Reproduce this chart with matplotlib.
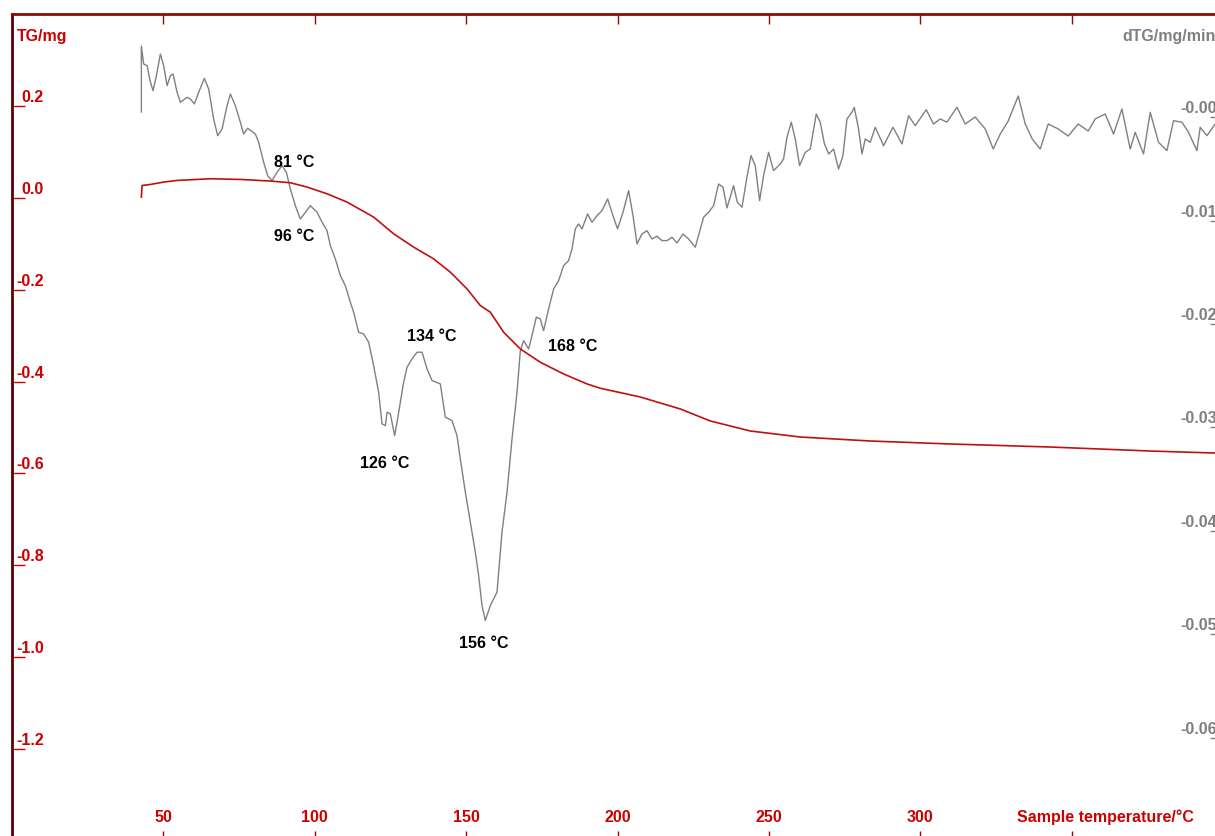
import matplotlib
matplotlib.use("Agg")
import matplotlib.pyplot as plt

plt.rcParams['font.family'] = ['Liberation Sans', 'DejaVu Sans']

# TG curve (mg) against sample temperature (°C)
tg_temp = [42.73, 42.96, 45.71, 50.10, 54.52, 65.52, 75.43, 85.34, 91.94, 97.46,
           104.06, 110.67, 119.45, 126.06, 132.66, 139.27, 144.78, 150.30, 154.69, 157.99,
           162.38, 167.90, 174.50, 182.20, 189.93, 194.32, 207.53, 220.74, 230.65, 243.86,
           260.37, 283.49, 309.91, 342.93, 375.96, 397.43]
tg_mass = [0.0015, 0.0268, 0.0290, 0.0342, 0.0377, 0.0414, 0.0399, 0.0364, 0.0327, 0.0233,
           0.0087, -0.0094, -0.0420, -0.0784, -0.1074, -0.1329, -0.1619, -0.1983, -0.2346, -0.2490,
           -0.2926, -0.3290, -0.3580, -0.3834, -0.4052, -0.4146, -0.4336, -0.4597, -0.4858, -0.5076,
           -0.5207, -0.5294, -0.5359, -0.5425, -0.5512, -0.5556]

# dTG curve (mg/min) against sample temperature (°C)
dtg_temp = [42.73, 42.73, 43.49, 44.62, 45.71, 46.60, 47.69, 49.01, 50.10, 51.22,
            52.31, 53.20, 54.52, 55.61, 57.83, 58.92, 60.24, 61.66, 63.54, 64.96,
            66.61, 67.93, 69.39, 71.04, 72.13, 73.78, 75.43, 76.52, 77.84, 80.38,
            81.47, 83.12, 84.45, 85.90, 87.55, 89.20, 90.62, 91.94, 93.59, 95.24,
            96.90, 98.55, 100.76, 102.41, 104.06, 105.15, 106.80, 108.46, 110.11, 111.76,
            112.85, 114.50, 116.15, 117.80, 119.45, 121.10, 122.23, 123.32, 123.88, 124.97,
            125.73, 126.39, 127.18, 128.27, 129.36, 130.48, 132.13, 133.78, 135.44, 137.09,
            138.74, 141.48, 143.13, 145.34, 146.99, 148.08, 149.74, 151.39, 153.04, 154.13,
            155.25, 156.34, 157.99, 160.20, 161.85, 163.51, 165.16, 166.81, 167.90, 168.99,
            170.64, 171.76, 173.18, 174.50, 175.59, 177.25, 178.90, 180.55, 182.20, 183.85,
            184.97, 186.06, 187.15, 188.28, 190.13, 191.58, 193.23, 194.88, 196.73, 198.52,
            200.03, 201.82, 203.67, 205.12, 206.44, 208.09, 209.74, 211.39, 213.04, 214.70,
            216.35, 218.00, 219.65, 221.63, 223.48, 225.70, 227.35, 228.44, 230.09, 231.74,
            233.39, 234.85, 236.16, 238.34, 239.57, 241.12, 242.77, 244.09, 245.51, 246.93,
            248.25, 249.90, 251.55, 253.76, 254.85, 255.98, 257.40, 258.72, 260.14, 262.02,
            263.67, 265.65, 266.97, 268.35, 269.77, 271.37, 273.02, 274.47, 275.79, 277.44,
            278.20, 279.62, 280.75, 281.84, 283.49, 285.14, 287.88, 290.99, 293.96, 296.14,
            298.35, 301.98, 304.39, 306.60, 308.81, 312.12, 313.21, 314.86, 318.16, 321.47,
            324.11, 326.42, 329.06, 332.36, 334.68, 336.99, 339.63, 342.27, 345.57, 348.88,
            352.18, 355.48, 357.79, 361.10, 363.84, 366.61, 369.35, 371.00, 373.75, 375.96,
            378.70, 381.48, 383.66, 386.43, 388.61, 391.38, 392.47, 394.69, 397.43]
dtg_rate = [0.00052, 0.00690, 0.00516, 0.00500, 0.00342, 0.00258, 0.00403, 0.00613, 0.00500, 0.00307,
            0.00403, 0.00420, 0.00243, 0.00146, 0.00194, 0.00178, 0.00130, 0.00243, 0.00378, 0.00275,
            -0.00015, -0.00177, -0.00112, 0.00113, 0.00226, 0.00113, -0.00047, -0.00161, -0.00105, -0.00161,
            -0.00241, -0.00434, -0.00564, -0.00612, -0.00531, -0.00467, -0.00531, -0.00692, -0.00854, -0.00983,
            -0.00918, -0.00854, -0.00918, -0.01014, -0.01096, -0.01241, -0.01369, -0.01531, -0.01628, -0.01788,
            -0.01885, -0.02078, -0.02095, -0.02175, -0.02401, -0.02659, -0.02965, -0.02982, -0.02852, -0.02868,
            -0.02982, -0.03078, -0.02949, -0.02755, -0.02562, -0.02417, -0.02336, -0.02272, -0.02272, -0.02433,
            -0.02546, -0.02578, -0.02900, -0.02933, -0.03078, -0.03304, -0.03626, -0.03916, -0.04206, -0.04432,
            -0.04722, -0.04867, -0.04722, -0.04593, -0.04012, -0.03626, -0.03110, -0.02659, -0.02259, -0.02159,
            -0.02240, -0.02111, -0.01933, -0.01950, -0.02063, -0.01853, -0.01660, -0.01579, -0.01434, -0.01386,
            -0.01273, -0.01079, -0.01031, -0.01079, -0.00934, -0.01014, -0.00951, -0.00902, -0.00789, -0.00951,
            -0.01079, -0.00918, -0.00709, -0.00951, -0.01224, -0.01128, -0.01096, -0.01176, -0.01150, -0.01192,
            -0.01192, -0.01160, -0.01215, -0.01128, -0.01176, -0.01256, -0.01079, -0.00966, -0.00918, -0.00854,
            -0.00644, -0.00676, -0.00876, -0.00661, -0.00821, -0.00869, -0.00576, -0.00370, -0.00467, -0.00806,
            -0.00564, -0.00338, -0.00515, -0.00451, -0.00402, -0.00192, -0.00047, -0.00209, -0.00467, -0.00338,
            -0.00306, 0.00033, -0.00047, -0.00257, -0.00354, -0.00306, -0.00499, -0.00370, -0.00015, 0.00049,
            0.00098, -0.00112, -0.00354, -0.00209, -0.00241, -0.00096, -0.00274, -0.00096, -0.00257, 0.00016,
            -0.00080, 0.00074, -0.00064, -0.00015, -0.00047, 0.00098, 0.00033, -0.00064, 0.00004, -0.00112,
            -0.00306, -0.00161, -0.00035, 0.00207, -0.00064, -0.00209, -0.00306, -0.00064, -0.00112, -0.00180,
            -0.00064, -0.00132, -0.00015, 0.00033, -0.00161, 0.00081, -0.00306, -0.00144, -0.00354, 0.00049,
            -0.00241, -0.00322, -0.00032, -0.00047, -0.00144, -0.00322, -0.00096, -0.00177, -0.00064]

temp_ticks = [50, 100, 150, 200, 250, 300, 350]
temp_labels = ['50', '100', '150', '200', '250', '300', '']
tg_ticks = [0.2, 0.0, -0.2, -0.4, -0.6, -0.8, -1.0, -1.2]
tg_labels = ['0.2', '0.0', '-0.2', '-0.4', '-0.6', '-0.8', '-1.0', '-1.2']
dtg_ticks = [0.0, -0.01, -0.02, -0.03, -0.04, -0.05, -0.06]
dtg_labels = ['-0.00', '-0.01', '-0.02', '-0.03', '-0.04', '-0.05', '-0.06']

# peak labels (temperature, dTG position)
peak_text = ['81 °C', '96 °C', '134 °C', '126 °C', '168 °C', '156 °C']
peak_x = [86.7, 86.7, 130.6, 115.1, 177.2, 147.8]
peak_y = [-0.00431, -0.01147, -0.02114, -0.03342, -0.02211, -0.05083]

RED = '#cc0000'
DARKRED = '#8b0a0a'
GRAY = '#808080'

fig = plt.figure(figsize=(12.15, 8.37), dpi=100)
W, H = 1215, 837
ax = fig.add_axes([12 / W, -5 / H, 1211 / W, 827 / H])
ax2 = ax.twinx()

ax.plot(tg_temp, tg_mass, color='#c01010', lw=1.2, zorder=3)
ax2.plot(dtg_temp, dtg_rate, color=GRAY, lw=1.0)

ax.set_xlim(0, 400)
ax.set_ylim(-1.4, 0.4)
ax2.set_ylim(-0.07, 0.01)
ax.set_zorder(ax2.get_zorder() + 1)
ax.patch.set_visible(False)

for a in (ax, ax2):
    for s in a.spines.values():
        s.set_visible(False)
ax.spines['left'].set_visible(True)
ax.spines['left'].set_color('#5a0000')
ax.spines['left'].set_linewidth(2)
ax.spines['top'].set_visible(True)
ax.spines['top'].set_color(DARKRED)
ax.spines['top'].set_linewidth(2)

ax.set_xticks(temp_ticks)
ax.tick_params(axis='x', direction='in', top=True, bottom=True, length=7.2, width=1,
               color=DARKRED, labelbottom=False, labeltop=False)
ax.set_yticks(tg_ticks)
ax.tick_params(axis='y', direction='in', length=9.4, width=1, color=RED, labelleft=False)
ax2.set_yticks(dtg_ticks)
ax2.tick_params(axis='y', direction='in', length=9.4, width=1, color=GRAY, labelright=False)

font = dict(fontsize=11.5, fontweight='bold')
for t, lab in zip(temp_ticks, temp_labels):
    ax.annotate(lab, (t, 0), xycoords=ax.get_xaxis_transform(), xytext=(0, 20),
                textcoords='offset pixels', ha='center', va='baseline', color=RED, **font)
for v, lab in zip(tg_ticks, tg_labels):
    ax.annotate(lab, (0, v), xycoords=ax.get_yaxis_transform(), xytext=(32, 5),
                textcoords='offset pixels', ha='right', va='baseline', color=RED, **font)
for v, lab in zip(dtg_ticks, dtg_labels):
    ax2.annotate(lab, (1, v), xycoords=ax2.get_yaxis_transform(), xytext=(-6, 5),
                 textcoords='offset pixels', ha='right', va='baseline', color=GRAY, **font)

fig.text(17 / W, 1 - 36 / H, 'TG/mg', ha='left', va='center', color=RED, **font)
fig.text(1216 / W, 1 - 36 / H, 'dTG/mg/min', ha='right', va='center', color=GRAY, **font)
fig.text(1017 / W, 1 - 817 / H, 'Sample temperature/°C', ha='left', va='center', color=RED, **font)

for txt, x, y in zip(peak_text, peak_x, peak_y):
    ax2.text(x, y, txt, ha='left', va='center', color='black', **font)

fig.savefig('out.png', dpi=100)
